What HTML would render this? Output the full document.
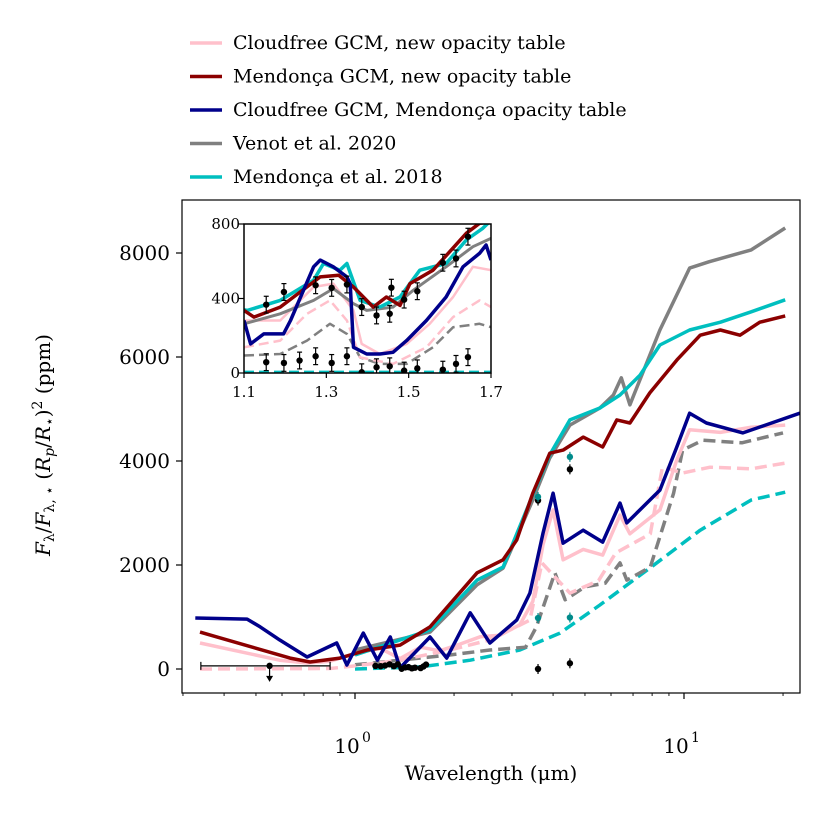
<!DOCTYPE html>
<html><head><meta charset="utf-8">
<style>
html,body{margin:0;padding:0;background:#fff;}
svg text{font-family:"DejaVu Serif","Liberation Serif",serif;fill:#000;}
</style></head>
<body>
<svg id="chart" width="830" height="830" viewBox="0 0 830 830" xmlns="http://www.w3.org/2000/svg">
<defs>
<clipPath id="mainClip"><rect x="182" y="200" width="618" height="493"/></clipPath>
<clipPath id="insetClip"><rect x="244" y="224" width="247" height="149"/></clipPath>
</defs>
<g id="legend"></g>
<g id="main"></g>
<g id="inset"></g>
</svg>
<script>
// ---- data (wavelength in micron, flux ratio in ppm) ----
const pinkW = [0.338,0.59,0.715,0.84,1.0,1.19,1.37,1.58,1.81,2.09,2.4,2.76,3.17,3.47,3.73,4.0,4.29,4.94,5.66,6.39,6.85,8.45,9.51,10.4,12.9,16.0,20.3];
const pinkV = [500,170,115,150,300,400,200,420,350,480,620,650,850,1300,2400,3060,2100,2300,2190,2960,2600,3060,4020,4600,4550,4650,4690];
const pinkDW = [0.338,0.84,1.0,1.37,1.94,2.57,3.4,3.7,4.5,5.5,6.2,7.9,8.6,9.9,12.0,16.0,20.3];
const pinkDV = [0,10,60,170,365,560,940,2040,1460,1700,2230,2600,3880,3770,3880,3850,3960];
const redW = [0.338,0.635,0.73,0.9,1.09,1.37,1.69,2.35,2.82,3.1,3.47,3.91,4.29,4.94,5.66,6.25,6.85,7.87,9.51,11.2,12.9,14.8,17.0,20.3];
const redV = [710,210,135,210,365,460,810,1850,2100,2480,3380,4150,4210,4460,4270,4790,4730,5310,5940,6420,6520,6420,6670,6790];
const navyW = [0.327,0.47,0.515,0.59,0.715,0.88,0.945,1.06,1.17,1.28,1.37,1.69,1.9,2.24,2.57,3.1,3.4,3.73,4.0,4.29,4.94,5.66,6.39,6.7,8.45,9.51,10.4,11.7,15.1,22.5];
const navyV = [980,960,810,560,230,500,77,690,170,615,20,615,210,1080,500,940,1460,2620,3380,2420,2670,2440,3190,2810,3440,4270,4920,4730,4540,4920];
const grayW = [1.0,1.69,2.35,2.82,3.47,3.91,4.5,5.55,6.1,6.45,6.85,8.45,10.4,11.9,16.0,20.3];
const grayV = [365,710,1620,1940,3250,4060,4690,5020,5270,5600,5080,6520,7710,7830,8060,8480];
const grayDW = [1.0,1.94,2.57,3.3,3.56,4.05,4.35,5.0,5.76,6.39,6.7,7.9,9.3,9.9,11.4,15.0,20.0];
const grayDV = [80,270,365,420,810,1850,1330,1580,1650,2040,1710,1960,3380,4210,4400,4350,4540];
const cyanW = [1.0,1.69,2.35,2.82,3.47,3.91,4.5,5.55,6.39,7.35,8.45,10.4,12.9,16.0,20.3];
const cyanV = [270,750,1710,1960,3350,4120,4790,5020,5270,5650,6230,6520,6670,6870,7100];
const cyanDW = [1.0,1.58,2.24,3.17,4.2,5.55,7.87,11.2,16.0,20.3];
const cyanDV = [0,40,170,365,690,1230,1940,2670,3250,3400];
// inset series
const inRedW=[1.1,1.124,1.188,1.285,1.33,1.366,1.414,1.446,1.479,1.503,1.559,1.64,1.672,1.7];
const inRedV=[336,300,354,516,525,462,354,408,363,480,552,750,804,810];
const inCyanW=[1.1,1.108,1.188,1.269,1.293,1.333,1.35,1.382,1.43,1.479,1.527,1.591,1.64,1.68,1.7];
const inCyanV=[340,336,390,498,588,552,588,390,354,408,552,588,714,777,820];
const inGrayW=[1.1,1.188,1.269,1.317,1.366,1.398,1.462,1.511,1.591,1.656,1.7];
const inGrayV=[264,318,390,453,372,336,354,444,570,678,723];
const inNavyW=[1.1,1.116,1.148,1.196,1.213,1.269,1.285,1.317,1.35,1.358,1.366,1.398,1.43,1.462,1.495,1.543,1.591,1.632,1.672,1.688,1.7];
const inNavyV=[282,156,210,210,282,570,606,570,516,480,138,102,102,111,174,282,408,570,642,687,606];
const inPinkW=[1.1,1.188,1.269,1.317,1.366,1.386,1.43,1.495,1.551,1.608,1.656,1.7];
const inPinkV=[282,282,462,480,336,156,102,156,264,408,570,552];
const inPinkDW=[1.1,1.188,1.253,1.309,1.35,1.382,1.462,1.543,1.608,1.672,1.7];
const inPinkDV=[138,174,318,390,282,84,49,138,300,390,354];
const inGrayDW=[1.1,1.188,1.253,1.309,1.35,1.382,1.43,1.495,1.559,1.608,1.672,1.7];
const inGrayDV=[94,102,174,264,210,84,49,49,138,246,264,246];
const inCyanDW=[1.1,1.7];
const inCyanDV=[5,5];
// observed data
const obsHiW=[1.154,1.197,1.274,1.313,1.35,1.386,1.422,1.454,1.458,1.489,1.521,1.583,1.615,1.644];
const obsHiV=[367,435,471,457,475,354,309,318,458,394,439,592,615,732];
const obsLoW=[1.154,1.197,1.235,1.274,1.313,1.35,1.386,1.422,1.454,1.489,1.521,1.583,1.615,1.644];
const obsLoV=[58,54,67,90,54,90,4,31,36,13,25,18,49,85];
const obsErr=45;
const spitzerW=[3.6,4.5];
const spitzerBlackV=[3240,3840];
const spitzerBlackLoV=[0,110];
const spitzerTealV=[3310,4080];
const spitzerTealLoV=[980,990];
const limitW=0.55, limitV=60, limitLo=0.34, limitHi=0.84;
const yTicks=[0,2000,4000,6000,8000];
const inXTicks=[1.1,1.3,1.5,1.7];
const inYTicks=[0,400,800];
const legendLabels=["Cloudfree GCM, new opacity table","Mendonça GCM, new opacity table","Cloudfree GCM, Mendonça opacity table","Venot et al. 2020","Mendonça et al. 2018"];
const legendColors=["#ffc0cb","#8b0000","#00008b","#808080","#00bfbf"];

// ---- axes ----
const NS="http://www.w3.org/2000/svg";
const X=w=>355+329*Math.log10(w);
const Y=v=>669-v*104/2000;
const IX=w=>244+(w-1.1)/0.6*247;
const IY=v=>373-v/800*149;
function el(tag,attrs,parent){const e=document.createElementNS(NS,tag);for(const k in attrs)e.setAttribute(k,attrs[k]);parent.appendChild(e);return e;}
function line(parent,W,V,xf,yf,color,dash,width,name){
  const d=W.map((w,i)=>(i?'L':'M')+xf(w).toFixed(1)+','+yf(V[i]).toFixed(1)).join('');
  const p=el('path',{d:d,fill:'none',stroke:color,'stroke-width':width,'stroke-linejoin':'round'},parent);
  if(dash)p.setAttribute('stroke-dasharray',dash);
  
  
  return p;
}
const main=document.getElementById('main');
const inset=document.getElementById('inset');
const legend=document.getElementById('legend');

// legend
legendLabels.forEach((t,i)=>{
  const y=43+i*33.5;
  const g=el('g',{},legend);
  
  
  el('line',{x1:190,x2:222,y1:y,y2:y,stroke:legendColors[i],'stroke-width':3.5},g);
  const tx=el('text',{x:233,y:y+6,'font-size':19},g);tx.textContent=t;
});

// main series
const mg=el('g',{'clip-path':'url(#mainClip)'},main);
line(mg,cyanDW,cyanDV,X,Y,'#00bfbf','12,6',3.5,'series-mendonca2018-dashed');
line(mg,grayDW,grayDV,X,Y,'#808080','12,6',3.5,'series-venot-dashed');
line(mg,pinkDW,pinkDV,X,Y,'#ffc0cb','12,6',3.5,'series-cloudfree-new-dashed');
line(mg,pinkW,pinkV,X,Y,'#ffc0cb',null,3.5,'series-cloudfree-new');
line(mg,grayW,grayV,X,Y,'#808080',null,3.5,'series-venot');
line(mg,cyanW,cyanV,X,Y,'#00bfbf',null,3.5,'series-mendonca2018');
line(mg,redW,redV,X,Y,'#8b0000',null,3.5,'series-mendonca-gcm');
line(mg,navyW,navyV,X,Y,'#00008b',null,3.5,'series-cloudfree-mendonca');
// observations main
function pt(parent,x,y,c,err,name){
  if(err){el('line',{x1:x,x2:x,y1:y-err,y2:y+err,stroke:c,'stroke-width':1.2},parent);}
  const cc=el('circle',{cx:x,cy:y,r:3.2,fill:c},parent);
  
  
}
obsLoW.forEach((w,i)=>pt(mg,X(w),Y(obsLoV[i]),'#000',0,'obs-point'));
spitzerW.forEach((w,i)=>{
  pt(mg,X(w),Y(spitzerBlackV[i]),'#000',5,'spitzer-point');
  pt(mg,X(w),Y(spitzerBlackLoV[i]),'#000',5,'spitzer-point');
  pt(mg,X(w),Y(spitzerTealV[i]),'#008b8b',5,'spitzer-point-teal');
  pt(mg,X(w),Y(spitzerTealLoV[i]),'#008b8b',5,'spitzer-point-teal');
});
el('line',{x1:X(limitLo),x2:X(limitHi),y1:Y(limitV),y2:Y(limitV),stroke:'#000','stroke-width':1.2},mg);
el('line',{x1:X(limitLo),x2:X(limitLo),y1:Y(limitV)-4,y2:Y(limitV)+4,stroke:'#000','stroke-width':1.2},mg);
el('line',{x1:X(limitHi),x2:X(limitHi),y1:Y(limitV)-4,y2:Y(limitV)+4,stroke:'#000','stroke-width':1.2},mg);
pt(mg,X(limitW),Y(limitV),'#000',0,'upper-limit-point');
el('line',{x1:X(limitW),x2:X(limitW),y1:Y(limitV),y2:Y(limitV)+12,stroke:'#000','stroke-width':1.2},mg);
el('path',{d:`M${X(limitW)-3.5},${Y(limitV)+10}L${X(limitW)+3.5},${Y(limitV)+10}L${X(limitW)},${Y(limitV)+16}Z`,fill:'#000'},mg);

// main frame & ticks
const fr=el('rect',{x:182,y:200,width:618,height:493,fill:'none',stroke:'#000','stroke-width':1.2},main);


yTicks.forEach(v=>{
  el('line',{x1:182,x2:176,y1:Y(v),y2:Y(v),stroke:'#000','stroke-width':1.2},main);
  const t=el('text',{x:170,y:Y(v)+7,'font-size':20,'text-anchor':'end'},main);t.textContent=v;
  
  
});
for(let d=-1;d<=1;d++){for(let m=1;m<=9;m++){
  const w=m*Math.pow(10,d);const x=X(w);if(x<182||x>800)continue;
  el('line',{x1:x,x2:x,y1:693,y2:m===1?699:696,stroke:'#000','stroke-width':m===1?1.2:0.9},main);
}}
[[1,'0'],[10,'1']].forEach(([w,e])=>{
  const t=el('text',{x:X(w)-8,y:753,'font-size':20,'text-anchor':'middle'},main);
  
  
  t.textContent='10';
  const s=el('text',{x:X(w)+7,y:742,'font-size':14},main);s.textContent=e;
});
const xl=el('text',{x:491,y:780,'font-size':20,'text-anchor':'middle'},main);
xl.textContent='Wavelength (μm)';


const yl=el('text',{x:0,y:0,'font-size':20,'text-anchor':'middle',transform:'translate(50,445) rotate(-90)'},main);
yl.innerHTML='<tspan font-style="italic">F</tspan><tspan font-size="14" dy="4">λ</tspan><tspan dy="-4">/</tspan><tspan font-style="italic">F</tspan><tspan font-size="14" dy="4">λ, ⋆</tspan><tspan dy="-4"> (</tspan><tspan font-style="italic">R</tspan><tspan font-size="14" font-style="italic" dy="4">p</tspan><tspan dy="-4">/</tspan><tspan font-style="italic">R</tspan><tspan font-size="14" dy="4">⋆</tspan><tspan dy="-4">)</tspan><tspan font-size="14" dy="-8">2</tspan><tspan dy="8"> (ppm)</tspan>';



// inset
el('rect',{x:244,y:224,width:247,height:149,fill:'#fff'},inset);
const ig=el('g',{'clip-path':'url(#insetClip)'},inset);
line(ig,inCyanDW,inCyanDV,IX,IY,'#00bfbf','10,5',3,'inset-mendonca2018-dashed');
line(ig,inGrayDW,inGrayDV,IX,IY,'#808080','10,5',2.5,'inset-venot-dashed');
line(ig,inPinkDW,inPinkDV,IX,IY,'#ffc0cb','10,5',2.5,'inset-cloudfree-new-dashed');
line(ig,inPinkW,inPinkV,IX,IY,'#ffc0cb',null,2.5,'inset-cloudfree-new');
line(ig,inGrayW,inGrayV,IX,IY,'#808080',null,3,'inset-venot');
line(ig,inCyanW,inCyanV,IX,IY,'#00bfbf',null,3.5,'inset-mendonca2018');
line(ig,inRedW,inRedV,IX,IY,'#8b0000',null,3.5,'inset-mendonca-gcm');
line(ig,inNavyW,inNavyV,IX,IY,'#00008b',null,3.5,'inset-cloudfree-mendonca');
obsHiW.forEach((w,i)=>{const x=IX(w),y=IY(obsHiV[i]),e=obsErr*149/800;
  el('line',{x1:x,x2:x,y1:y-e,y2:y+e,stroke:'#000','stroke-width':1.2},ig);
  el('line',{x1:x-2.5,x2:x+2.5,y1:y-e,y2:y-e,stroke:'#000','stroke-width':1.2},ig);
  el('line',{x1:x-2.5,x2:x+2.5,y1:y+e,y2:y+e,stroke:'#000','stroke-width':1.2},ig);
  pt(ig,x,y,'#000',0,'inset-obs-point');});
obsLoW.forEach((w,i)=>{const x=IX(w),y=IY(obsLoV[i]),e=obsErr*149/800;
  el('line',{x1:x,x2:x,y1:y-e,y2:y+e,stroke:'#000','stroke-width':1.2},ig);
  el('line',{x1:x-2.5,x2:x+2.5,y1:y-e,y2:y-e,stroke:'#000','stroke-width':1.2},ig);
  el('line',{x1:x-2.5,x2:x+2.5,y1:y+e,y2:y+e,stroke:'#000','stroke-width':1.2},ig);
  pt(ig,x,y,'#000',0,'inset-obs-point');});
const ifr=el('rect',{x:244,y:224,width:247,height:149,fill:'none',stroke:'#000','stroke-width':1.5},inset);


inXTicks.forEach(v=>{
  el('line',{x1:IX(v),x2:IX(v),y1:373,y2:378,stroke:'#000','stroke-width':1.2},inset);
  const t=el('text',{x:IX(v),y:397,'font-size':15,'text-anchor':'middle'},inset);t.textContent=v.toFixed(1);
  
  
});
inYTicks.forEach(v=>{
  el('line',{x1:244,x2:239,y1:IY(v),y2:IY(v),stroke:'#000','stroke-width':1.2},inset);
  const t=el('text',{x:240,y:IY(v)+5,'font-size':15,'text-anchor':'end'},inset);t.textContent=v;
  
  
});
</script>
</body></html>
